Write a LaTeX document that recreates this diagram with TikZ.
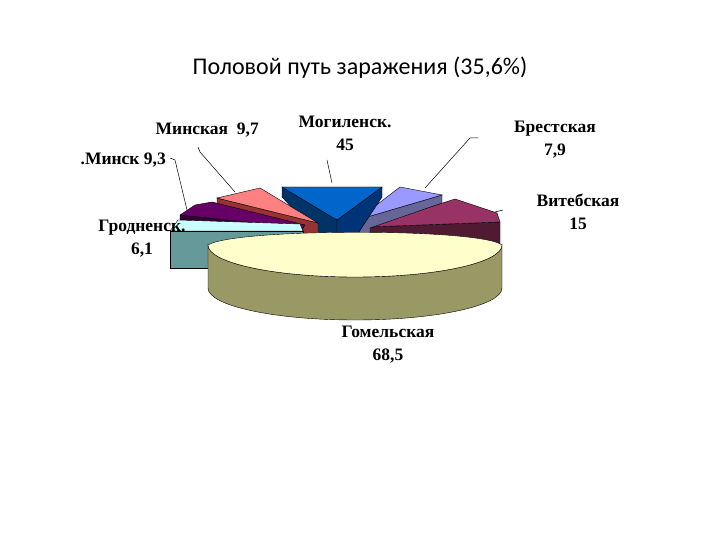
\documentclass[tikz,border=0pt]{standalone}
\usepackage{fontspec}
\setmainfont{Liberation Serif}
\newfontfamily\titlefont{Carlito}
\begin{document}
\begin{tikzpicture}[x=1pt,y=-1pt,
  lbl/.style={font=\bfseries\fontsize{17.5}{23}\selectfont,align=center,inner sep=1pt},
  lead/.style={draw=black,line width=0.5pt},
  edge/.style={draw=black,line width=0.4pt}]
\useasboundingbox[fill=white] (0,0) rectangle (720,540);
\node[font=\titlefont\fontsize{24}{28}\selectfont] (title) at (360,68) {Половой путь заражения (35,6\%)};
% Vitebsk side & top
\path[edge,fill={rgb,255:red,80;green,26;blue,51}] (370,227)--(500,222)--(500,262)--(370,262)--cycle;
\path[edge,fill={rgb,255:red,153;green,51;blue,102}] (368,227)--(455,199)--(497,213)--(500,222)--cycle;
% Brest
\path[edge,fill={rgb,255:red,102;green,102;blue,153}] (357,220)--(442,195)--(442,203)--(370,228)--(370,238)--(357,238)--cycle;
\path[edge,fill={rgb,255:red,153;green,153;blue,255}] (357,220)--(400,187)--(442,195)--cycle;
% Mogilev
\path[edge,fill={rgb,255:red,0;green,51;blue,102}] (282,187)--(282,197)--(320,238)--(337,238)--(337,220)--cycle;
\path[edge,fill={rgb,255:red,0;green,51;blue,120}] (337,220)--(337,238)--(355,238)--(382,197)--(382,187)--cycle;
\path[edge,fill={rgb,255:red,0;green,102;blue,204}] (282,187)--(382,187)--(337,220)--cycle;
% Minsk region
\path[edge,fill={rgb,255:red,153;green,51;blue,51}] (217,198)--(217,203)--(310,238)--(318,238)--(318,223)--cycle;
\path[edge,fill={rgb,255:red,255;green,128;blue,128}] (217,198)--(260,188)--(318,223)--cycle;
% Minsk city
\path[edge,fill={rgb,255:red,51;green,0;blue,51}] (180,215)--(180,220)--(303,236)--(303,228)--cycle;
\path[edge,fill={rgb,255:red,102;green,0;blue,102}] (180,215)--(195,205)--(212,202)--(305,225)--(303,228)--cycle;
% Grodno
\path[edge,fill={rgb,255:red,102;green,153;blue,153}] (170,231)--(303,231)--(303,268)--(170,268)--cycle;
\path[edge,fill={rgb,255:red,204;green,255;blue,255}] (178,220)--(300,224)--(303,231)--(170,231)--cycle;
% Gomel
\path[edge,fill={rgb,255:red,153;green,153;blue,102}] (208,245)--(208,288) arc[start angle=180,end angle=0,x radius=147,y radius=32]--(502,245) arc[start angle=0,end angle=180,x radius=147,y radius=32]--cycle;
\path[edge,fill={rgb,255:red,255;green,255;blue,204}] (208,245) arc[start angle=180,end angle=0,x radius=147,y radius=32] .. controls (480,228) and (235,228) .. (208,245)--cycle;
% labels
\node[lbl] (mog) at (345,133) {Могиленск.\\45};
\node[lbl,anchor=east] (mins) at (260,130) {Минская\ \ 9,7};
\node[lbl,anchor=east] (minc) at (167,160) {.Минск 9,3};
\node[lbl] (bre) at (555,140) {Брестская\\7,9};
\node[lbl] (vit) at (578,212) {Витебская\\15};
\node[lbl] (gro) at (142,239) {Гродненск.\\6,1};
\node[lbl] (gom) at (388,345) {Гомельская\\68,5};
\coordinate (m1) at (198,147); \coordinate (m1b) at (200,152); \coordinate (m1c) at (235,192);
\coordinate (c1) at (170,158); \coordinate (c1b) at (175,160); \coordinate (c1c) at (187,210);
\coordinate (g1) at (327,160); \coordinate (g1b) at (332,183);
\coordinate (b1) at (478,138); \coordinate (b1b) at (470,138); \coordinate (b1c) at (425,188);
\coordinate (v1) at (503,210); \coordinate (v1b) at (495,212);
\draw[lead] (m1)--(m1b)--(m1c);
\draw[lead] (c1)--(c1b)--(c1c);
\draw[lead] (g1)--(g1b);
\draw[lead] (b1)--(b1b)--(b1c);
\draw[lead] (v1)--(v1b);
\end{tikzpicture}
\end{document}
